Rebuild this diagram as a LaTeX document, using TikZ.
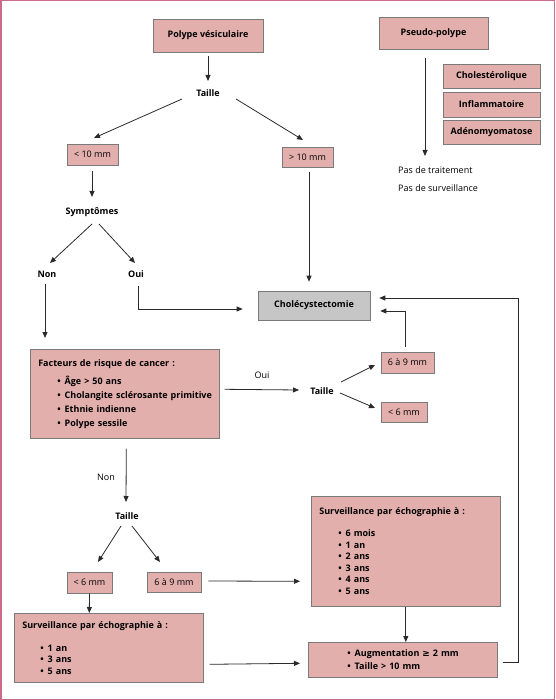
\documentclass[tikz,border=0pt]{standalone}
\usepackage{fontspec}
\setmainfont{Open Sans}
\newfontfamily\symf{DejaVu Sans}
\usetikzlibrary{arrows.meta,calc}
\definecolor{boxfill}{HTML}{E3AFAC}
\definecolor{boxline}{HTML}{7A7A7A}
\definecolor{grayfill}{HTML}{C6C6C6}
\definecolor{framecol}{HTML}{CC6A8A}
\definecolor{arrcol}{HTML}{2A2A2A}
\newcommand\bul{\textbullet\hspace{4pt}}
\newcommand\fs{\fontsize{9}{11}\selectfont}
\hyphenpenalty=10000
\begin{document}
\begin{tikzpicture}[x=1pt,y=-1pt,
  font=\fs,
  pbox/.style={draw=boxline,fill=boxfill,line width=0.6pt,inner sep=0pt,minimum width=#1},
  lbl/.style={inner sep=0pt,text height=6.5pt,text depth=0pt},
  arr/.style={draw=arrcol,line width=0.8pt,-{Triangle[length=6pt,width=5pt]}},
  ln/.style={draw=arrcol,line width=0.8pt}]
\useasboundingbox (0,0) rectangle (555,700);
\draw[framecol,line width=1.5pt] (0.75,0.75) rectangle (554.25,699.25);
% top
\node[pbox=110pt,minimum height=33pt,font=\fs\bfseries] (pv) at (208,35.5) {Polype vésiculaire};
\node[lbl,font=\fs\bfseries] (taille1) at (208,93) {Taille};
\node[pbox=51pt,minimum height=21pt,font=\fs] (lt10) at (92.5,154.5) {< 10 mm};
\node[pbox=51pt,minimum height=20pt,font=\fs] (gt10) at (307.5,157) {> 10 mm};
\node[lbl,font=\fs\bfseries] (sympt) at (92,211) {Symptômes};
\node[lbl,font=\fs\bfseries] (non1) at (47,274) {Non};
\node[lbl,font=\fs\bfseries] (oui1) at (136,274) {Oui};
\node[pbox=112pt,minimum height=29pt,fill=grayfill,font=\fs\bfseries] (chol) at (314,305.5) {Cholécystectomie};
% pseudo-polype
\node[pbox=109pt,minimum height=32pt,font=\fs\bfseries] (pp) at (433.5,33) {Pseudo-polype};
\node[pbox=97pt,minimum height=24pt,font=\fs\bfseries] (cholest) at (491.5,76) {Cholestérolique};
\node[pbox=97pt,minimum height=25pt,font=\fs\bfseries] (inflam) at (491.5,104.5) {Inflammatoire};
\node[pbox=97pt,minimum height=24pt,font=\fs\bfseries] (adeno) at (491.5,132) {Adénomyomatose};
\node[lbl,anchor=west,font=\fs] (pas1) at (398,170) {Pas de traitement};
\node[lbl,anchor=west,font=\fs] (pas2) at (398,188) {Pas de surveillance};
% facteurs
\node[pbox=189pt,minimum height=89pt,anchor=north west,text width=183pt,inner xsep=3pt,align=left,font=\fontsize{9}{14}\selectfont\bfseries] (fact) at (30,349)
 {\hspace*{5pt}Facteurs de risque de cancer :\\[4pt]
  \hspace*{24pt}\bul Âge > 50 ans\\
  \hspace*{24pt}\bul \mbox{Cholangite sclérosante primitive}\\
  \hspace*{24pt}\bul Ethnie indienne\\
  \hspace*{24pt}\bul Polype sessile};
\node[lbl,font=\fs] (oui2) at (262,375) {Oui};
\node[lbl,font=\fs\bfseries] (taille2) at (322,391) {Taille};
\node[pbox=53pt,minimum height=21pt,font=\fs] (b69a) at (407.5,362.5) {6 à 9 mm};
\node[pbox=46pt,minimum height=20pt,font=\fs] (b6a) at (404,412) {< 6 mm};
% lower
\node[lbl,font=\fs] (nonlbl) at (106,477) {Non};
\node[lbl,font=\fs\bfseries] (taille3) at (127,516) {Taille};
\node[pbox=45pt,minimum height=21pt,font=\fs] (b6b) at (89.5,582.5) {< 6 mm};
\node[pbox=54pt,minimum height=20pt,font=\fs] (b69b) at (174,582) {6 à 9 mm};
\node[pbox=189pt,minimum height=69pt,anchor=north west,text width=173pt,inner xsep=8pt,align=left,font=\fontsize{9}{11.5}\selectfont\bfseries] (survL) at (14,613)
 {Surveillance par échographie à :\\[11.5pt]
  \hspace*{18pt}\bul 1 an\\
  \hspace*{18pt}\bul 3 ans\\
  \hspace*{18pt}\bul 5 ans};
\node[pbox=189pt,minimum height=110pt,anchor=north west,text width=173pt,inner xsep=8pt,align=left,font=\fontsize{9}{11.5}\selectfont\bfseries] (survR) at (311,496)
 {Surveillance par échographie à :\\[10.5pt]
  \hspace*{19pt}\bul 6 mois\\
  \hspace*{19pt}\bul 1 an\\
  \hspace*{19pt}\bul 2 ans\\
  \hspace*{19pt}\bul 3 ans\\
  \hspace*{19pt}\bul 4 ans\\
  \hspace*{19pt}\bul 5 ans};
\node[pbox=189pt,minimum height=35pt,anchor=north west,text width=173pt,inner xsep=8pt,align=left,font=\fontsize{9}{13}\selectfont\bfseries] (aug) at (308,642)
 {\hspace*{31pt}\bul Augmentation {\symf ≥} 2 mm\\
  \hspace*{31pt}\bul Taille > 10 mm};
% connectors
\draw[arr] ($(pv.south)+(0,4)$) -- ($(taille1)+(0,-12)$);
\draw[arr] ($(taille1)+(-26,6)$) -- ($(lt10)+(1.5,-16.5)$);
\draw[arr] ($(taille1)+(28,6)$) -- ($(gt10)+(-4.5,-17)$);
\draw[arr] ($(lt10.south)+(-0.5,6)$) -- ($(sympt)+(0,-14)$);
\draw[arr] ($(sympt)+(0,13)$) -- ($(non1)+(3,-11)$);
\draw[arr] ($(sympt)+(7,13)$) -- ($(oui1)+(-1,-11)$);
\draw[arr] ($(non1)+(-2,10)$) -- ($(fact.north west)+(15,-11)$);
\draw[arr] ($(oui1)+(2,12)$) |- ($(chol.west)+(-15,3.5)$);
\draw[arr] ($(gt10.south)+(1.5,5)$) -- ($(chol.north)+(-5,-9)$);
\draw[arr] ($(pp.south)+(-8.5,9)$) -- ($(pas1.west)+(27,-14)$);
\draw[arr] ($(fact.east)+(5,-4.5)$) -- ($(taille2)+(-23,-1)$);
\draw[arr] ($(taille2)+(19,-9)$) -- ($(b69a)+(-32.5,2.5)$);
\draw[arr] ($(taille2)+(18,2)$) -- ($(b6a)+(-29,-4)$);
\draw[arr] ($(b69a.north)+(-2.5,-5)$) |- ($(chol.east)+(10,5.5)$);
\draw[arr] ($(fact.south)+(1.5,10)$) -- ($(taille3)+(-1,-14)$);
\draw[arr] ($(taille3)+(-6,10)$) -- ($(b6b)+(8.5,-20.5)$);
\draw[arr] ($(taille3)+(5,10)$) -- ($(b69b)+(-14,-20)$);
\draw[arr] (b6b.south) -- ($(survL.north)+(-19.5,0)$);
\draw[arr] ($(b69b.east)+(7,-1)$) -- ($(survR.west)+(-11,30)$);
\draw[arr] ($(survL.east)+(6,16.5)$) -- ($(aug.west)+(-8,3.5)$);
\draw[arr] (survR.south) -- (survR.south |- aug.north);
\draw[arr] ($(aug.east)+(5,2.5)$) -| ($(chol.east)+(148,-7.5)$) -- ($(chol.east)+(9,-7.5)$);
\end{tikzpicture}
\end{document}
